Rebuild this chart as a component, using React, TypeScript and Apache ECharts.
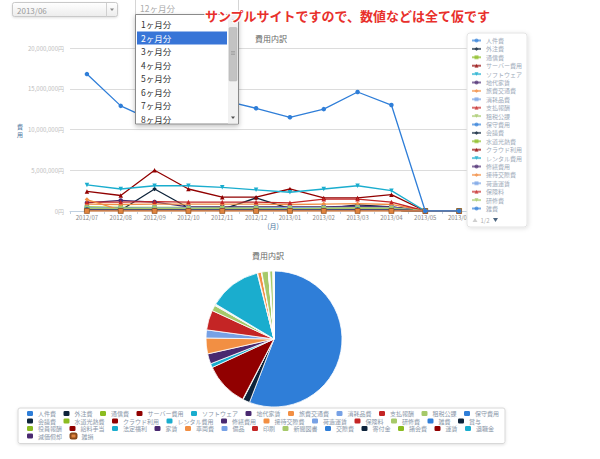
import React, { useEffect, useRef } from "react";
import * as echarts from "echarts";

// ---------- data ----------
const months = ["2012/07", "2012/08", "2012/09", "2012/10", "2012/11", "2012/12", "2013/01", "2013/02", "2013/03", "2013/04", "2013/05", "2013/06"];

const expenseNames = [
  "人件費", "外注費", "通信費", "サーバー費用", "ソフトウェア", "地代家賃", "旅費交通費", "消耗品費", "支払報酬", "租税公課", "保守費用",
  "会議費", "水道光熱費", "クラウド利用", "レンタル費用", "修繕費用", "接待交際費", "荷造運賃", "保険料", "研修費", "雑費", "賞与",
  "役員報酬", "給料手当", "法定福利", "家賃", "車両費", "備品", "印刷", "新聞図書", "交際費", "寄付金", "諸会費", "運賃", "退職金",
  "減価償却", "雑損",
];

// monthly amounts (yen)
const personnelCost = [16800000, 12900000, 11000000, 12000000, 13600000, 12600000, 11500000, 12500000, 14600000, 13000000, 0, 0];
const outsourcingCost = [200000, 100000, 2700000, 400000, 200000, 1600000, 300000, 300000, 750000, 500000, 0, 0];
const communicationCost = [500000, 450000, 450000, 450000, 450000, 450000, 450000, 450000, 500000, 450000, 0, 0];
const serverCost = [2400000, 1900000, 5000000, 2700000, 1700000, 1700000, 2700000, 1600000, 1600000, 2000000, 0, 0];
const softwareCost = [250000, 250000, 250000, 250000, 250000, 250000, 250000, 250000, 250000, 250000, 0, 0];
const rentCost = [1000000, 1300000, 1100000, 500000, 500000, 500000, 500000, 500000, 600000, 500000, 0, 0];
const travelCost = [850000, 800000, 850000, 850000, 850000, 850000, 800000, 850000, 900000, 800000, 0, 0];
const suppliesCost = [400000, 350000, 400000, 400000, 350000, 400000, 400000, 400000, 450000, 400000, 0, 0];
const feeCost = [1100000, 1100000, 1150000, 1100000, 1100000, 1100000, 1000000, 1450000, 1450000, 1100000, 0, 0];
const taxCost = [300000, 300000, 300000, 300000, 300000, 300000, 300000, 300000, 300000, 300000, 0, 0];
const cloudCost = [3200000, 2700000, 3100000, 3100000, 2900000, 2600000, 2300000, 2700000, 3100000, 2500000, 0, 0];
const entertainmentCost = [1400000, 100000, 150000, 150000, 150000, 150000, 150000, 150000, 200000, 150000, 0, 0];
const trainingCost = [350000, 300000, 350000, 350000, 350000, 350000, 300000, 350000, 400000, 350000, 0, 0];
const minorCost = [150000, 100000, 100000, 100000, 100000, 100000, 100000, 100000, 150000, 100000, 0, 0];
const zeroCost = [0, 0, 0, 0, 0, 0, 0, 0, 0, 0, 0, 0];

// breakdown for the pie (yen)
const pieAmounts = [
  146000000, 4300000, 300000, 27400000, 2500000, 6300000, 9800000, 5000000, 12300000, 3500000, 300000,
  200000, 300000, 200000, 32500000, 300000, 2300000, 200000, 100000, 4000000, 100000, 100000,
  100000, 100000, 100000, 100000, 100000, 100000, 100000, 2000000, 100000, 100000, 100000, 100000, 100000,
  100000, 0,
];

const dropdownOptions = ["1ヶ月分", "2ヶ月分", "3ヶ月分", "4ヶ月分", "5ヶ月分", "6ヶ月分", "7ヶ月分", "8ヶ月分"];
const sideLegendPageSize = 21;
const sideLegendPager = "1/2";

// ---------- style ----------
const palette = ["#2f7ed8", "#0d233a", "#8bbc21", "#910000", "#1aadce", "#492970", "#f28f43", "#77a1e5", "#c42525", "#a6c96a"];
const symbols = ["circle", "diamond", "rect", "triangle", "path://M0,0L10,0L5,8Z"];
const F = '"Noto Sans CJK JP", "Noto Sans", sans-serif';

const lineTable: Record<number, number[]> = {
  0: personnelCost, 1: outsourcingCost, 2: communicationCost, 3: serverCost, 4: softwareCost,
  5: rentCost, 6: travelCost, 7: suppliesCost, 8: feeCost, 9: taxCost, 14: cloudCost,
  16: entertainmentCost, 19: trainingCost, 36: zeroCost,
};

function buildOption() {
  const lineSeries = expenseNames.map((name, i) => {
    const color = palette[i % 10];
    const isZero = i === 36;
    return {
      type: "line",
      name,
      data: lineTable[i] ?? minorCost,
      symbol: isZero ? "rect" : symbols[i % 5],
      symbolSize: isZero ? 5 : 4.5,
      lineStyle: { color, width: 1.3 },
      itemStyle: isZero ? { color: "#e0843e", borderColor: "#8a4a1a", borderWidth: 0.6 } : { color },
      emphasis: { disabled: true },
      z: i === 0 ? 3 : 2,
    };
  });

  // explicit line breaks in the bottom legend: after item 10 ('') and item 21 ('\n'); row 3 wraps by width
  const pieLegendData: string[] = [];
  expenseNames.forEach((n, i) => {
    pieLegendData.push(n);
    if (i === 10) pieLegendData.push("");
    if (i === 21) pieLegendData.push("\n");
  });

  const listText = dropdownOptions.map((t, idx) => ({
    type: "text",
    z: 105,
    x: 141,
    y: 24.3 + idx * 13.5,
    style: {
      text: t,
      fill: idx === 1 ? "#ffffff" : "#333333",
      fontSize: 8.5,
      fontFamily: F,
      textVerticalAlign: "middle",
      verticalAlign: "middle",
    },
  }));

  const btnGrad = new echarts.graphic.LinearGradient(0, 0, 0, 1, [
    { offset: 0, color: "#ffffff" },
    { offset: 1, color: "#ececec" },
  ]);

  const graphics: any[] = [
    // period select
    { type: "rect", z: 100, shape: { x: 12.5, y: 2.5, width: 105, height: 14, r: 2 }, style: { fill: btnGrad, stroke: "#c9c9c9", lineWidth: 1, shadowBlur: 2, shadowColor: "rgba(0,0,0,0.12)", shadowOffsetY: 1 } },
    { type: "line", z: 101, shape: { x1: 106.5, y1: 3, x2: 106.5, y2: 16.5 }, style: { stroke: "#d0d0d0", lineWidth: 1 } },
    { type: "polygon", z: 101, shape: { points: [[110, 8.5], [114, 8.5], [112, 11]] }, style: { fill: "#888" } },
    { type: "text", z: 101, x: 17, y: 10, style: { text: "2013/06", fill: "#9a9a9a", fontSize: 8, fontFamily: F, textVerticalAlign: "middle", verticalAlign: "middle" } },
    // range select header
    { type: "rect", z: 100, shape: { x: 135.5, y: -1, width: 103, height: 16 }, style: { fill: "#fff", stroke: "#d5d5d5", lineWidth: 1 } },
    { type: "text", z: 101, x: 140, y: 8, style: { text: "12ヶ月分", fill: "#aaaaaa", fontSize: 8.5, fontFamily: F, textVerticalAlign: "middle", verticalAlign: "middle" } },
    // open list
    { type: "rect", z: 102, shape: { x: 135.5, y: 14.5, width: 103, height: 109.5 }, style: { fill: "#fff", stroke: "#8a8a8a", lineWidth: 1, shadowBlur: 5, shadowColor: "rgba(0,0,0,0.25)", shadowOffsetY: 2 } },
    { type: "rect", z: 103, shape: { x: 137, y: 31.5, width: 90, height: 13 }, style: { fill: "#3875d7" } },
    ...listText,
    // scrollbar
    { type: "rect", z: 103, shape: { x: 228, y: 15, width: 10, height: 108.5 }, style: { fill: "#f1f1f1" } },
    { type: "rect", z: 104, shape: { x: 229, y: 27.5, width: 8, height: 53.5, r: 1 }, style: { fill: "#c3c3c3", stroke: "#b0b0b0", lineWidth: 0.5 } },
    { type: "line", z: 105, shape: { x1: 231, y1: 51.5, x2: 235, y2: 51.5 }, style: { stroke: "#888", lineWidth: 0.5 } },
    { type: "line", z: 105, shape: { x1: 231, y1: 53, x2: 235, y2: 53 }, style: { stroke: "#888", lineWidth: 0.5 } },
    { type: "line", z: 105, shape: { x1: 231, y1: 54.5, x2: 235, y2: 54.5 }, style: { stroke: "#888", lineWidth: 0.5 } },
    { type: "polygon", z: 104, shape: { points: [[231, 21.5], [235, 21.5], [233, 19]] }, style: { fill: "#a3a3a3" } },
    { type: "polygon", z: 104, shape: { points: [[231, 116.5], [235, 116.5], [233, 119]] }, style: { fill: "#505050" } },
    // notice
    {
      type: "text", z: 120, x: 205, y: 15,
      style: {
        text: "サンプルサイトですので、数値などは全て仮です",
        fill: "#e8302c", fontSize: 13, fontWeight: "bold", fontFamily: F,
        stroke: "#ffffff", lineWidth: 2.5,
        shadowBlur: 3, shadowColor: "rgba(0,0,0,0.45)", shadowOffsetX: 1, shadowOffsetY: 1,
        textVerticalAlign: "middle", verticalAlign: "middle",
      },
    },
    // y axis title (stacked vertically)
    { type: "text", z: 10, x: 20, y: 126, style: { text: "費", fill: "#4d759e", fontSize: 6, fontFamily: F, textAlign: "center", align: "center", textVerticalAlign: "middle", verticalAlign: "middle" } },
    { type: "text", z: 10, x: 20, y: 134.5, style: { text: "用", fill: "#4d759e", fontSize: 6, fontFamily: F, textAlign: "center", align: "center", textVerticalAlign: "middle", verticalAlign: "middle" } },
    // side legend pager
    { type: "polygon", z: 100, shape: { points: [[472.5, 222], [477.5, 222], [475, 218]] }, style: { fill: "#cfcfcf" } },
    { type: "text", z: 100, x: 485, y: 220, style: { text: sideLegendPager, fill: "#b0b0b0", fontSize: 6, fontFamily: F, textAlign: "center", align: "center", textVerticalAlign: "middle", verticalAlign: "middle" } },
    { type: "polygon", z: 100, shape: { points: [[493, 218], [498, 218], [495.5, 222]] }, style: { fill: "#4d6680" } },
  ];

  return {
    animation: false,
    textStyle: { fontFamily: F },
    title: [
      { text: "費用内訳", left: 255, top: 34, padding: 0, textStyle: { fontSize: 8, fontWeight: "normal", color: "#666", fontFamily: F } },
      { text: "費用内訳", left: 252, top: 251, padding: 0, textStyle: { fontSize: 8, fontWeight: "normal", color: "#666", fontFamily: F } },
    ],
    grid: { left: 70, right: 124, top: 48, bottom: 248, containLabel: false },
    xAxis: {
      type: "category",
      data: months,
      boundaryGap: true,
      name: "(月)",
      nameLocation: "middle",
      nameGap: 11.5,
      nameTextStyle: { color: "#4d759e", fontSize: 7, fontFamily: F },
      axisLine: { show: true, lineStyle: { color: "#c0d0e0", width: 1 } },
      axisTick: { show: true, length: 3, lineStyle: { color: "#c0d0e0" } },
      axisLabel: { fontSize: 6, color: "#888", margin: 3, interval: 0, fontFamily: F },
      splitLine: { show: false },
    },
    yAxis: {
      type: "value",
      min: 0,
      max: 20000000,
      interval: 5000000,
      axisLine: { show: false },
      axisTick: { show: false },
      axisLabel: {
        fontSize: 6,
        color: "#bdbdbd",
        margin: 6,
        fontFamily: F,
        formatter: (v: number) => v.toLocaleString("en-US") + "円",
      },
      splitLine: { lineStyle: { color: "#dcdcdc", width: 1 } },
    },
    legend: [
      {
        type: "plain",
        orient: "vertical",
        left: 467,
        top: 33,
        padding: [4.5, 5, 15.5, 4],
        backgroundColor: "#fff",
        borderColor: "#e4e4e4",
        borderWidth: 1,
        borderRadius: 3,
        shadowBlur: 4,
        shadowColor: "rgba(0,0,0,0.12)",
        shadowOffsetX: 1,
        shadowOffsetY: 1,
        itemWidth: 9,
        itemHeight: 5,
        itemGap: 2.4,
        textStyle: { fontSize: 6, lineHeight: 5, color: "#a0abba", fontFamily: F },
        itemStyle: { opacity: 0.65 },
        lineStyle: { opacity: 0.65 },
        data: expenseNames.slice(0, sideLegendPageSize),
      },
      {
        type: "plain",
        orient: "horizontal",
        left: 18,
        top: 408,
        width: 505,
        padding: [2.5, 0, 4, 9],
        backgroundColor: "#fff",
        borderColor: "#d8d8d8",
        borderWidth: 1,
        borderRadius: 2,
        shadowBlur: 3,
        shadowColor: "rgba(0,0,0,0.12)",
        shadowOffsetY: 1,
        itemWidth: 6,
        itemHeight: 5,
        itemGap: 1.5,
        icon: "roundRect",
        textStyle: { fontSize: 6, lineHeight: 5, color: "#8a97a9", fontFamily: F },
        formatter: (n: string) => n + "\u3000",
        data: pieLegendData,
      },
    ],
    series: [
      ...lineSeries,
      {
        type: "pie",
        name: "費用内訳",
        center: [274, 339],
        radius: 68,
        startAngle: 90,
        clockwise: true,
        label: { show: false },
        labelLine: { show: false },
        emphasis: { disabled: true },
        itemStyle: { borderColor: "#ffffff", borderWidth: 0.8 },
        data: expenseNames.map((name, i) => ({ name, value: pieAmounts[i], itemStyle: { color: palette[i % 10] } })),
      },
    ],
    graphic: { elements: graphics },
  };
}

export default function App() {
  const ref = useRef<HTMLDivElement>(null);
  useEffect(() => {
    if (!ref.current) return;
    const chart = echarts.init(ref.current, null, { renderer: "svg" });
    chart.setOption(buildOption() as any);
    return () => chart.dispose();
  }, []);
  return (
    <div
      ref={ref}
      style={{ position: "fixed", left: 0, top: 0, width: 600, height: 459, background: "#fff" }}
    />
  );
}
